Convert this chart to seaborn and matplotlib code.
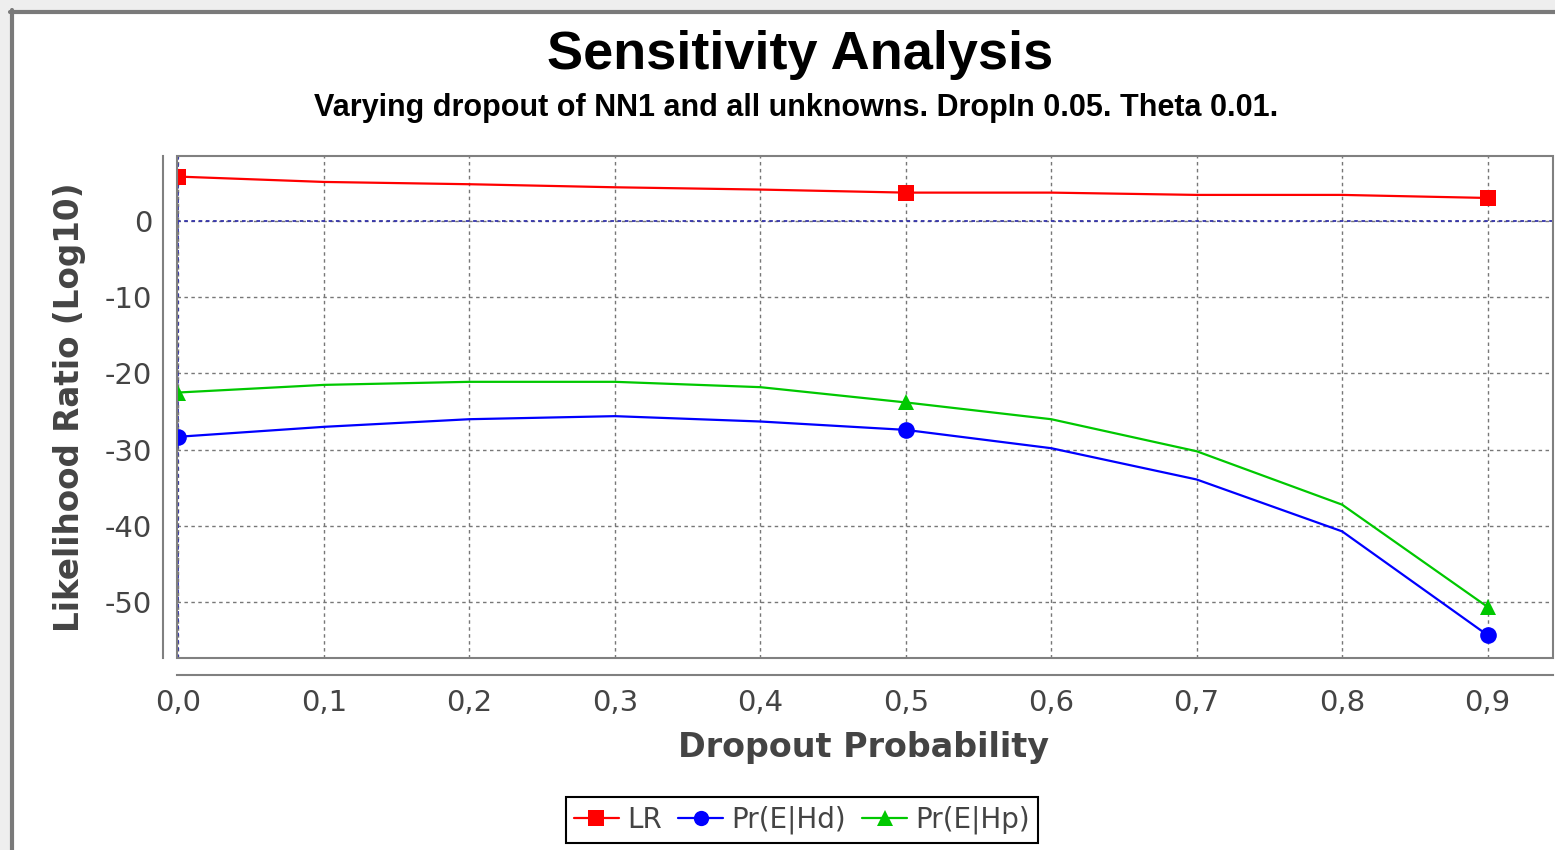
import numpy as np
import pandas as pd
import matplotlib.pyplot as plt
import seaborn as sns
from matplotlib.patches import Rectangle
from matplotlib.lines import Line2D

# Data
dropout = [0.0, 0.1, 0.2, 0.3, 0.4, 0.5, 0.6, 0.7, 0.8, 0.9]
lr = [5.8, 5.1, 4.8, 4.4, 4.1, 3.7, 3.7, 3.4, 3.4, 3.0]
pr_hd = [-28.3, -27.0, -26.0, -25.6, -26.3, -27.4, -29.8, -33.9, -40.7, -54.3]
pr_hp = [-22.5, -21.5, -21.1, -21.1, -21.8, -23.8, -26.0, -30.2, -37.2, -50.6]
series_names = ['LR', 'Pr(E|Hd)', 'Pr(E|Hp)']
x_ticks = [0.0, 0.1, 0.2, 0.3, 0.4, 0.5, 0.6, 0.7, 0.8, 0.9]
x_tick_labels = ['0,0', '0,1', '0,2', '0,3', '0,4', '0,5', '0,6', '0,7', '0,8', '0,9']
y_ticks = [0, -10, -20, -30, -40, -50]

colors = ['#ff0000', '#0000ff', '#00c800']
markers = ['s', 'o', '^']
shown = [0, 5, 9]  # markers only drawn at these points

sns.set_style('white')
plt.rcParams['font.family'] = ['DejaVu Sans']
plt.rcParams['axes.unicode_minus'] = False

fig = plt.figure(figsize=(15.55, 8.5), dpi=100)
ax = fig.add_axes([177 / 1555, 1 - 658 / 850, 1376 / 1555, 502 / 850])

for name, vals, c, m in zip(series_names, [lr, pr_hd, pr_hp], colors, markers):
    sns.lineplot(x=dropout, y=vals, ax=ax, color=c, marker=m, markersize=12,
                 markeredgewidth=0, markevery=shown, linewidth=1.6, label=name,
                 legend=False, zorder=4)

ax.set_xlim(-0.001, 0.945)
ax.set_ylim(-57.3, 8.5)
ax.set_xticks(x_ticks)
ax.set_xticklabels(x_tick_labels)
ax.set_yticks(y_ticks)

ax.grid(True, color='#777777', linestyle=(0, (2.5, 2.5)), linewidth=1.0)
ax.axhline(0, color='#3333aa', linestyle=(0, (2, 2)), linewidth=1.3, zorder=3)
ax.axvline(0, color='#3333aa', linestyle=(0, (2, 2)), linewidth=1.3, zorder=3)

# offset axis lines, plot outline drawn separately
for s in ['top', 'right']:
    ax.spines[s].set_visible(False)
ax.spines['left'].set_position(('outward', 10))
ax.spines['bottom'].set_position(('outward', 12))
for s in ['left', 'bottom']:
    ax.spines[s].set_color('#808080')
    ax.spines[s].set_linewidth(1.5)
ax.add_patch(Rectangle((0, 0), 1, 1, transform=ax.transAxes, fill=False,
                       edgecolor='#808080', linewidth=1.5, clip_on=False, zorder=5))

ax.tick_params(axis='both', colors='#808080', labelcolor='#444444', labelsize=21,
               length=4, width=1.2, direction='out')
ax.tick_params(axis='x', pad=6)
ax.tick_params(axis='y', pad=4)

ax.set_xlabel('Dropout Probability', fontsize=24, fontweight='bold', color='#444444')
ax.set_ylabel('Likelihood Ratio (Log10)', fontsize=23.5, fontweight='bold', color='#444444')
ax.xaxis.set_label_coords((863 - 177) / 1376, (658 - 748) / 502)
ax.yaxis.set_label_coords((70 - 177) / 1376, 0.5)
ax.xaxis.label.set_va('center')
ax.yaxis.label.set_va('center')

head_font = ['Liberation Sans', 'DejaVu Sans']
fig.text(800 / 1555, 1 - 55 / 850, 'Sensitivity Analysis', ha='center', va='center',
         fontsize=39, fontweight='bold', family=head_font, color='black')
fig.text(796 / 1555, 1 - 108 / 850,
         'Varying dropout of NN1 and all unknowns. DropIn 0.05. Theta 0.01.',
         ha='center', va='center', fontsize=22, fontweight='bold', family=head_font,
         color='black')

handles = [Line2D([], [], color=c, marker=m, markersize=11, markeredgewidth=0, linewidth=1.6)
           for c, m in zip(colors, markers)]
leg = fig.legend(handles, series_names, loc='center', bbox_to_anchor=(802 / 1555, 1 - 820 / 850),
                 ncol=3, fontsize=20, frameon=True, fancybox=False, edgecolor='black',
                 framealpha=1, handlelength=1.6, handletextpad=0.3, columnspacing=0.6,
                 borderpad=0.3, borderaxespad=0)
leg.get_frame().set_linewidth(1.5)
for t in leg.get_texts():
    t.set_color('#444444')

# window frame around the chart
fig.patches.append(Rectangle((0, 1 - 10 / 850), 1, 10 / 850, transform=fig.transFigure,
                             color='#eeeeee', zorder=0))
fig.patches.append(Rectangle((0, 0), 9 / 1555, 1, transform=fig.transFigure,
                             color='#eeeeee', zorder=0))
fig.lines.append(Line2D([10 / 1555, 1], [1 - 12 / 850, 1 - 12 / 850], transform=fig.transFigure,
                        color='#7a7a7a', linewidth=3))
fig.lines.append(Line2D([12 / 1555, 12 / 1555], [0, 1 - 10 / 850], transform=fig.transFigure,
                        color='#7a7a7a', linewidth=3))

fig.savefig('out.png', dpi=100)
